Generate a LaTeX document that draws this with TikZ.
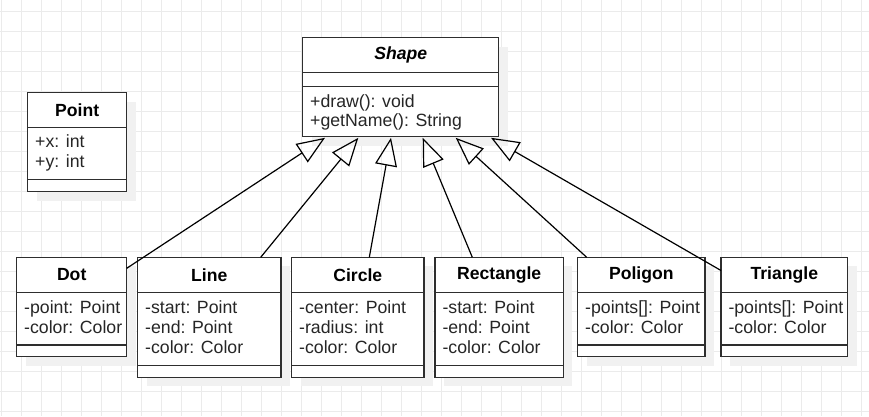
\documentclass[tikz,border=0pt]{standalone}
\usepackage{fontspec}
\setmainfont{Liberation Sans}
\usetikzlibrary{arrows.meta}
\definecolor{gridc}{HTML}{EBEBEB}
\definecolor{shadowc}{HTML}{F1F1F1}
\definecolor{strokec}{HTML}{2E2E2E}
\tikzset{
  box/.style={draw=strokec, fill=white, line width=1.3pt, rectangle, inner sep=0pt, outer sep=0pt},
  divline/.style={draw=strokec, line width=1.3pt},
  titletext/.style={font=\fontsize{17.6}{20}\selectfont\bfseries, inner sep=0pt},
  attrtext/.style={font=\fontsize{17.7}{20}\selectfont, inner sep=0pt, anchor=base west, text=black!85},
  inherit/.style={draw=black, line width=1.2pt, -{Triangle[open, length=28pt, width=22pt]}},
}
\newcommand{\umlcls}[7]{%
  \fill[shadowc] ({#2+9},{#3+9}) rectangle ({#4+9},{#7+9});
  \node[box, anchor=north west, minimum width={(#4-#2)*1pt}, minimum height={(#7-#3)*1pt}] (#1) at (#2,#3) {};
  \draw[divline] (#2,#5) -- (#4,#5);
  \draw[divline] (#2,#6) -- (#4,#6);
}
\begin{document}
\begin{tikzpicture}[x=1pt,y=-1pt]
\useasboundingbox (0,0) rectangle (869,416);
\fill[white] (0,0) rectangle (869,416);
% grid
\foreach \gx in {1.3,21.3,...,869} {\draw[gridc, line width=1pt] (\gx,0) -- (\gx,416);}
\foreach \gy in {11.7,31.7,...,416} {\draw[gridc, line width=1pt] (0,\gy) -- (869,\gy);}

% Shape
\umlcls{shape}{302.7}{37.5}{498.7}{72.3}{86.7}{136.7}
\node[titletext] (shapeT) at (400.7,55) {\itshape Shape};
\node[attrtext] (shapeM1) at (310,107) {+draw(): void};
\node[attrtext] (shapeM2) at (310,126.7) {+getName(): String};

% Point
\umlcls{point}{27.7}{92.7}{126.7}{127.3}{179.3}{191.7}
\node[titletext] (pointT) at (77.2,110) {Point};
\node[attrtext] (pointA1) at (35,147.7) {+x: int};
\node[attrtext] (pointA2) at (35,167.7) {+y: int};

% Dot
\umlcls{dot}{16.7}{257.3}{126.7}{292.3}{345}{356.7}
\node[titletext] (dotT) at (71.7,275) {Dot};
\node[attrtext] (dotA1) at (24,313.3) {-point: Point};
\node[attrtext] (dotA2) at (24,333.6) {-color: Color};

% Line
\umlcls{line}{137.7}{257.3}{281}{292.3}{365.7}{377.3}
\node[titletext] (lineT) at (209.3,275) {Line};
\node[attrtext] (lineA1) at (145,313.3) {-start: Point};
\node[attrtext] (lineA2) at (145,333.6) {-end: Point};
\node[attrtext] (lineA3) at (145,353.9) {-color: Color};

% Circle
\umlcls{circle}{291.7}{257.3}{424}{292.3}{365.7}{377.3}
\node[titletext] (circleT) at (357.8,275) {Circle};
\node[attrtext] (circleA1) at (299,313.3) {-center: Point};
\node[attrtext] (circleA2) at (299,333.6) {-radius: int};
\node[attrtext] (circleA3) at (299,353.9) {-color: Color};

% Rectangle
\umlcls{rect}{435}{257.3}{563.3}{292.3}{365.7}{377.3}
\node[titletext] (rectT) at (499.2,275) {Rectangle};
\node[attrtext] (rectA1) at (442.3,313.3) {-start: Point};
\node[attrtext] (rectA2) at (442.3,333.6) {-end: Point};
\node[attrtext] (rectA3) at (442.3,353.9) {-color: Color};

% Poligon
\umlcls{poligon}{577.7}{257.3}{705}{292.3}{345}{356.7}
\node[titletext] (poligonT) at (641.3,275) {Poligon};
\node[attrtext] (poligonA1) at (585,313.3) {-points[]: Point};
\node[attrtext] (poligonA2) at (585,333.6) {-color: Color};

% Triangle
\umlcls{triangle}{721}{257.3}{847.7}{292.3}{345}{356.7}
\node[titletext] (triangleT) at (784.3,275) {Triangle};
\node[attrtext] (triangleA1) at (728.3,313.3) {-points[]: Point};
\node[attrtext] (triangleA2) at (728.3,333.6) {-color: Color};

% connector end points
\coordinate (sDot) at (126.7,268.3);
\coordinate (sLine) at (260.7,257.3);
\coordinate (sCircle) at (369.3,257.3);
\coordinate (sRect) at (472.3,257.3);
\coordinate (sPoligon) at (586.7,257.3);
\coordinate (sTriangle) at (721,270.5);
\coordinate (tDot) at (325,137.8);
\coordinate (tLine) at (358.3,137.8);
\coordinate (tCircle) at (391,137.8);
\coordinate (tRect) at (422.7,137.8);
\coordinate (tPoligon) at (455.7,137.8);
\coordinate (tTriangle) at (491,137.8);

\draw[inherit] (sDot) -- (tDot);
\draw[inherit] (sLine) -- (tLine);
\draw[inherit] (sCircle) -- (tCircle);
\draw[inherit] (sRect) -- (tRect);
\draw[inherit] (sPoligon) -- (tPoligon);
\draw[inherit] (sTriangle) -- (tTriangle);
\end{tikzpicture}
\end{document}
